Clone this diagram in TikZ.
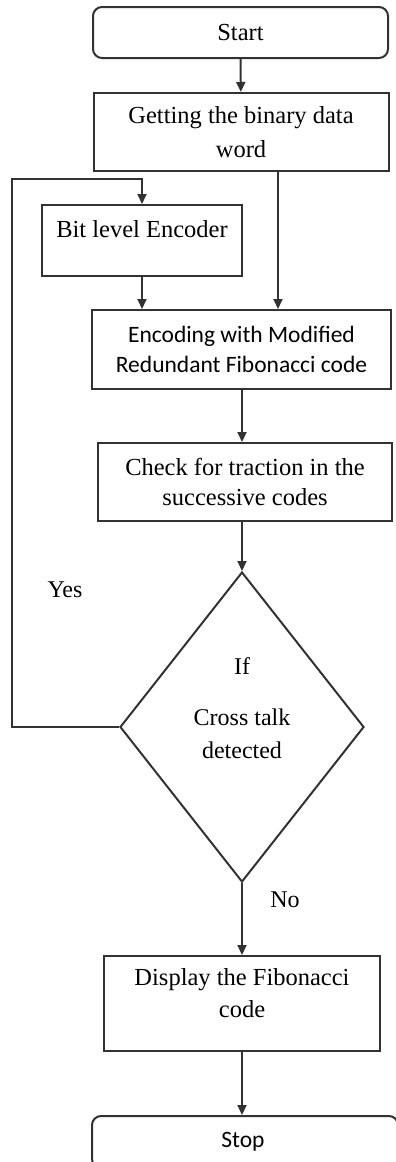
\documentclass[tikz,border=0pt]{standalone}
\usepackage{fontspec}
\setmainfont{Liberation Serif}
\newfontfamily\calibfont{Carlito}
\usetikzlibrary{shapes.geometric,arrows.meta}
\definecolor{linegray}{RGB}{50,50,50}

\begin{document}
\begin{tikzpicture}[x=1pt,y=-1pt,
  box/.style={draw=linegray,line width=2pt,rectangle,align=center,inner sep=0pt,font=\fontsize{24.5}{34}\selectfont},
  term/.style={box,rounded corners=9pt},
  arr/.style={draw=linegray,line width=2pt,-{Triangle[length=10pt,width=9pt]}}]
\useasboundingbox (0,0) rectangle (396,1162);

%steps
\node[term,minimum width=295pt,minimum height=51pt] (start) at (240.5,32.5) {Start};
\node[box,minimum width=295pt,minimum height=78pt] (getting) at (241,132) {Getting the binary data\\word};
\node[box,minimum width=200pt,minimum height=71pt,text height=16pt,text depth=22pt] (bitenc) at (142,240.5) {Bit level Encoder};
\node[box,minimum width=299pt,minimum height=79pt,font=\calibfont\fontsize{23.5}{30}\selectfont] (encode) at (241.5,349.5) {Encoding with Modified\\Redundant Fibonacci code};
\node[box,minimum width=294pt,minimum height=78pt,font=\fontsize{24.5}{30}\selectfont] (check) at (245,482) {Check for traction in the\\successive codes};

%decision
\node[box,diamond,aspect=0.787,minimum width=244pt,minimum height=310pt,text height=100pt,text depth=37pt,font=\fontsize{24}{33}\selectfont] (decide) at (242,727) {If\\[18pt]Cross talk\\detected};

\node[box,minimum width=276pt,minimum height=95pt,text height=48pt,text depth=20pt,font=\fontsize{24.5}{32}\selectfont] (display) at (242,1003.5) {Display the Fibonacci\\code};
\node[term,minimum width=306pt,minimum height=52pt,font=\calibfont\fontsize{23.5}{30}\selectfont] (stop) at (245,1142) {\hspace{-4pt}Stop};

%labels
\node[font=\fontsize{24}{30}\selectfont] (yes) at (65,590) {Yes};
\node[font=\fontsize{24}{30}\selectfont] (no) at (285,900) {No};

%connectors
\coordinate (loop) at (12,179);
\draw[arr] (start) -- (getting);
\draw[arr] ([xshift=37pt]getting.south) -- ([xshift=37pt]getting.south |- encode.north);
\draw[arr] (bitenc) -- (bitenc.south |- encode.north);
\draw[arr] (encode.south -| decide.north) -- (decide.north |- check.north);
\draw[arr] (check.south -| decide.north) -- (decide.north);
\draw[arr] (decide.west) -| (loop) -| (bitenc.north);
\draw[arr] (decide.south) -- (decide.south |- display.north);
\draw[arr] (display.south -| decide.south) -- (decide.south |- stop.north);
\end{tikzpicture}
\end{document}
